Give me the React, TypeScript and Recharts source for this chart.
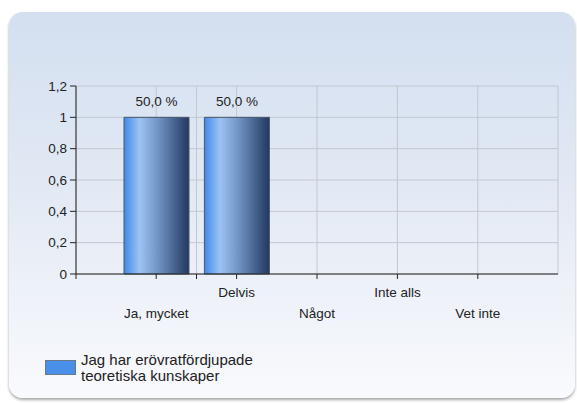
import React from 'react';
import { BarChart, Bar, XAxis, YAxis, CartesianGrid, LabelList, ReferenceLine } from 'recharts';

const categories = ['Ja, mycket', 'Delvis', 'Något', 'Inte alls', 'Vet inte'];
const values = [1, 1, 0, 0, 0];
const percents = [50.0, 50.0, 0, 0, 0];
const yTicks = [0, 0.2, 0.4, 0.6, 0.8, 1, 1.2];
const seriesName = 'Jag har erövratfördjupade teoretiska kunskaper';
const legendLines = ['Jag har erövratfördjupade', 'teoretiska kunskaper'];

const data = categories.map((c, i) => ({ name: c, value: values[i], pct: percents[i] }));

const FONT = '"Liberation Sans", Arial, sans-serif';

const fmt = (v: number) => String(v).replace('.', ',');

const XTick = (props: any) => {
  const { x, y, payload, index } = props;
  const dy = index % 2 === 1 ? 18 : 39;
  return (
    <text x={x} y={y + dy} textAnchor="middle" fontSize={13.5} fill="#222" fontFamily={FONT}>
      {payload.value}
    </text>
  );
};

const BarLabel = (props: any) => {
  const { x, y, width, index } = props;
  const p = percents[index];
  if (!p) return null;
  return (
    <text x={x + width / 2} y={y - 11} textAnchor="middle" fontSize={13.5} fill="#222" fontFamily={FONT}>
      {p.toFixed(1).replace('.', ',') + ' %'}
    </text>
  );
};

export default function App() {
  return (
    <div style={{ position: 'absolute', left: 0, top: 0, width: 577, height: 403, background: '#fff', overflow: 'hidden' }}>
      <div
        style={{
          position: 'absolute',
          left: 9,
          top: 12,
          width: 566,
          height: 386,
          borderRadius: 14,
          background: 'linear-gradient(to bottom, #d3dff0 0%, #e2e9f4 45%, #f9fafd 100%)',
          boxShadow: '0 2px 3px rgba(0,0,0,0.35)',
        }}
      />
      <div style={{ position: 'absolute', left: 0, top: 0 }}>
        <BarChart
          width={577}
          height={403}
          data={data}
          margin={{ top: 86, right: 19, bottom: 79, left: 36 }}
          barSize={65}
        >
          <defs>
            <linearGradient id="barGrad" x1="0" y1="0" x2="1" y2="0">
              <stop offset="0%" stopColor="#4189ea" />
              <stop offset="24%" stopColor="#9cc3f3" />
              <stop offset="55%" stopColor="#6c8fc0" />
              <stop offset="100%" stopColor="#22395f" />
            </linearGradient>
          </defs>
          <CartesianGrid stroke="#c3c7cf" strokeWidth={1} />
          <XAxis
            dataKey="name"
            type="category"
            padding={{ left: 40, right: 40 }}
            height={50}
            tickSize={5}
            tickMargin={0}
            tick={<XTick />}
            interval={0}
            axisLine={{ stroke: '#222' }}
            tickLine={{ stroke: '#222' }}
          />
          <XAxis xAxisId="edge" type="number" domain={[0, 1]} hide />
          <YAxis
            type="number"
            domain={[0, 1.2]}
            ticks={yTicks}
            tickFormatter={fmt}
            width={40}
            tickSize={6}
            tickMargin={3}
            interval={0}
            axisLine={{ stroke: '#222' }}
            tickLine={{ stroke: '#222' }}
            tick={{ fontSize: 13.5, fill: '#222', fontFamily: FONT }}
          />
          <ReferenceLine xAxisId="edge" x={1} stroke="#c3c7cf" />
          <ReferenceLine
            xAxisId="edge"
            segment={[{ x: 1, y: 0 }, { x: 1, y: -0.032 }]}
            stroke="#222"
            ifOverflow="visible"
          />
          <ReferenceLine
            xAxisId="edge"
            segment={[{ x: 0, y: 0 }, { x: 0, y: -0.032 }]}
            stroke="#222"
            ifOverflow="visible"
          />
          <Bar dataKey="value" name={seriesName} fill="url(#barGrad)" stroke="#4a5668" strokeWidth={1} isAnimationActive={false}>
            <LabelList dataKey="pct" content={<BarLabel />} />
          </Bar>
        </BarChart>
      </div>
      <div style={{ position: 'absolute', left: 45, top: 360, width: 29, height: 13, background: '#4a90ea', border: '1px solid #6a7888' }} />
      <div
        style={{
          position: 'absolute',
          left: 81,
          top: 352,
          fontFamily: FONT,
          fontSize: 15,
          lineHeight: '16px',
          color: '#222',
          whiteSpace: 'nowrap',
        }}
      >
        {legendLines.map((l) => (
          <div key={l}>{l}</div>
        ))}
      </div>
    </div>
  );
}
